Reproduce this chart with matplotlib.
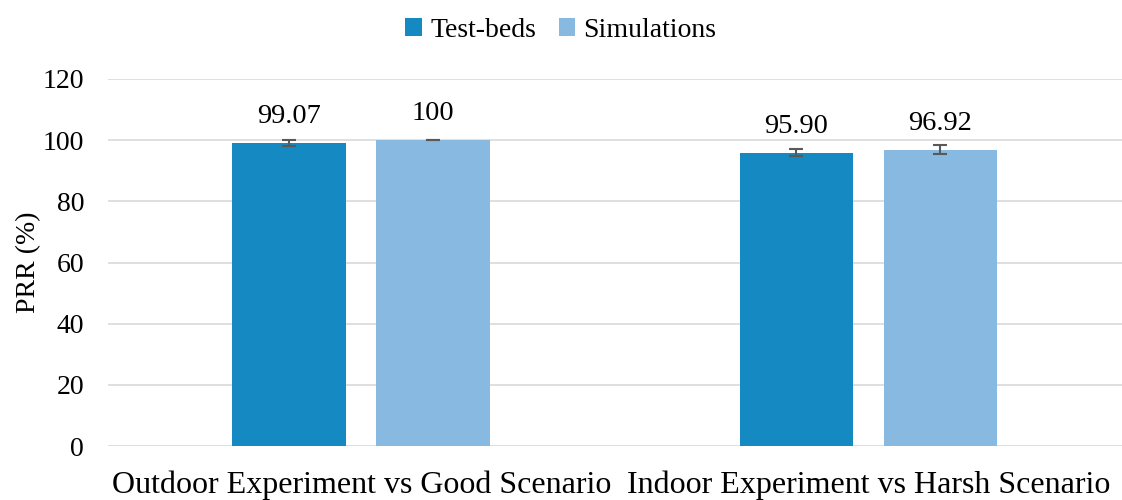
import matplotlib.pyplot as plt
import numpy as np

plt.rcParams['font.family'] = ['Liberation Serif', 'DejaVu Serif']

categories = ["Outdoor Experiment vs Good Scenario", "Indoor Experiment vs Harsh Scenario"]
series_names = ["Test-beds", "Simulations"]
testbeds = [99.07, 95.90]
simulations = [100, 96.92]
testbeds_err = [1.0, 1.2]
simulations_err = [0.1, 1.5]
value_labels = [["99.07", "95.90"], ["100", "96.92"]]
yticks = [0, 20, 40, 60, 80, 100, 120]

colors = ["#1589C1", "#87B9E1"]

fig = plt.figure(figsize=(11.22, 5), dpi=100)
ax = fig.add_axes([0.096, 0.108, 0.904, 0.734])

x = np.arange(len(categories))
width = 0.224
offset = 0.142

for i, (vals, errs) in enumerate([(testbeds, testbeds_err), (simulations, simulations_err)]):
    pos = x + (i * 2 - 1) * offset
    ax.bar(pos, vals, width, color=colors[i], label=series_names[i], zorder=2)
    ax.errorbar(pos, vals, yerr=errs, fmt="none", ecolor="#595959", elinewidth=1.5,
                capsize=5, capthick=1.5, zorder=3)
    for p, v, lab in zip(pos, vals, value_labels[i]):
        ax.text(p, v + 4.5, lab, ha="center", va="bottom", fontsize=20.5)

ax.set_xlim(-0.5, 1.5)
ax.set_ylim(0, 120)
ax.set_yticks(yticks)
ax.set_xticks(x)
ax.set_xticklabels(categories, fontsize=23)
ax.tick_params(axis="y", labelsize=20, length=0, pad=17)
ax.tick_params(axis="x", length=0, pad=18)
ax.set_ylabel("PRR (%)", fontsize=20, labelpad=1)
ax.grid(axis="y", color="#D9D9D9", linewidth=1.2, zorder=0)
for s in ["top", "right", "left", "bottom"]:
    ax.spines[s].set_visible(False)

fig.legend(loc="upper center", bbox_to_anchor=(0.5, 1.015), ncol=2, frameon=False,
           fontsize=20, handlelength=0.6, handleheight=0.6, handletextpad=0.3,
           columnspacing=0.8)

fig.savefig("out.png", dpi=100)
